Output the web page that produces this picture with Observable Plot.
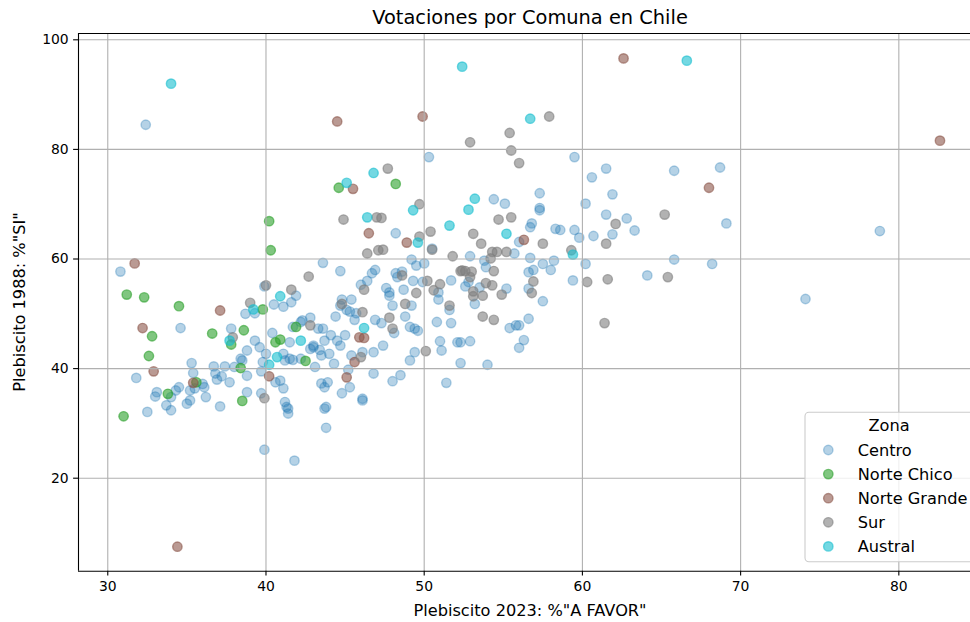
<!DOCTYPE html>
<html><head><meta charset="utf-8">
<script src="https://cdn.jsdelivr.net/npm/d3@7"></script>
<script src="https://cdn.jsdelivr.net/npm/@observablehq/plot@0.6"></script>
<style>
body{margin:0;background:#fff;}
#chart svg{display:block;}
</style></head><body>
<div id="chart"></div>
<script>
const zones = ["Centro","Norte Chico","Norte Grande","Sur","Austral"];
const colors = ["#1f77b4","#2ca02c","#8c564b","#7f7f7f","#17becf"];
const alphas = [0.33,0.6,0.6,0.6,0.6];
const xTicks = [30,40,50,60,70,80];
const yTicks = [20,40,60,80,100];

const centro = [[32.4,84.5],[50.3,78.6],[59.5,78.6],[61.5,76.5],[60.6,74.9],[61.9,71.8],[57.3,72.0],[54.4,70.9],[55.1,70.1],[57.3,69.3],[60.2,70.1],[61.5,68.1],[62.8,67.4],[65.8,76.1],[68.7,76.7],[69.1,66.5],[65.8,59.9],[68.2,59.1],[74.1,52.7],[78.8,65.1],
[63.3,65.2],[61.9,64.5],[60.7,64.2],[59.8,63.9],[59.5,65.3],[58.6,65.3],[58.3,65.5],[57.3,68.9],[56.8,66.5],[56.7,65.8],[56.0,63.1],[55.7,61.0],[52.9,60.5],[53.8,59.7],[56.7,60.2],[57.5,59.1],[58.2,59.7],[58.0,58.0],[60.2,59.1],[64.1,57.0],[59.4,56.1],[53.9,58.5],[52.8,55.8],[56.6,57.6],[56.9,58.0],[53.5,54.8],[55.2,54.6],[56.6,54.6],[53.2,51.8],[57.5,52.3],[56.6,49.1],[55.8,47.9],[56.0,47.9],[55.4,47.4],[56.3,45.2],[56.0,43.8],[52.9,45.0],[52.3,44.8],[52.3,41.0],[54.0,40.7],
[48.2,64.7],[50.5,61.9],[49.2,59.9],[49.5,58.8],[50.0,59.2],[43.6,59.3],[44.7,57.8],[46.9,58.0],[46.7,57.4],[48.2,57.4],[48.6,57.7],[48.3,56.7],[46.4,56.0],[46.0,55.3],[47.6,54.7],[47.8,53.9],[48.7,54.4],[49.3,56.0],[49.9,55.8],[51.7,56.1],[52.6,55.0],[50.9,53.9],[50.9,52.6],[51.6,50.7],[47.8,53.3],[48.0,51.5],[49.2,51.5],[48.8,49.5],[50.8,48.5],[51.7,48.3],[49.1,47.6],[49.4,47.3],[49.6,46.9],[48.1,46.5],[47.3,48.3],[46.9,48.9],[45.6,48.9],[45.3,50.4],[45.7,50.1],[44.8,52.6],[45.4,52.6],[44.7,51.5],[44.4,49.5],[45.1,50.7],[43.6,47.3],[44.1,46.1],[44.5,45.1],[44.7,44.2],[45.0,46.1],[42.8,49.3],[42.2,48.5],[41.7,47.6],[41.1,51.3],[40.5,51.7],[41.9,53.3],[41.6,52.1],[42.8,43.6],[43.0,44.2],[41.5,44.8],[41.2,41.5],[41.7,41.6],[43.4,43.4],[43.5,42.4],[44.0,42.7],[44.3,40.9],[45.4,42.4],[46.1,43.0],[46.8,43.0],[47.4,44.2],[45.2,39.8],[46.8,39.1],[48.0,37.7],[48.5,38.8],[49.1,41.5],[49.4,43.0],[51.0,45.0],[51.1,43.3],[52.1,44.8],[51.4,37.4],[40.9,37.8],[41.1,36.4],[41.2,33.9],[41.3,33.0],[43.5,37.3],[43.7,36.6],[43.9,37.5],[44.8,35.5],[45.3,36.6],[46.1,34.5],[43.8,33.0],[43.1,40.3],
[39.9,55.0],[38.7,50.0],[39.3,50.1],[37.8,47.3],[42.3,48.8],[40.4,46.5],[39.3,45.1],[38.8,43.3],[39.6,43.9],[40.0,42.7],[39.8,41.2],[38.4,41.8],[41.5,41.8],[41.1,42.7],[42.2,41.8],[43.0,43.9],[43.3,47.3],[43.7,45.1],
[30.8,57.7],[34.6,47.4],[38.5,41.5],[38.0,40.3],[37.4,40.4],[36.7,40.4],[36.8,39.1],[37.2,38.6],[36.9,38.0],[37.7,37.5],[38.8,38.7],[39.7,39.5],[38.8,35.7],[39.7,35.5],[40.6,37.5],[35.3,41.0],[35.4,39.2],[36.0,37.2],[36.1,36.6],[36.2,34.8],[35.2,36.0],[35.5,36.4],[34.5,36.6],[34.3,36.0],[34.0,34.8],[33.1,35.7],[33.0,34.9],[31.8,38.3],[33.7,33.3],[35.0,33.6],[35.2,34.2],[37.1,33.1],[32.5,32.1],[34.0,32.4],[39.9,25.2],[41.4,32.7],[41.4,31.8],[41.8,23.2],[43.7,32.7],[43.8,29.2],[46.1,34.2]];

const norteChico = [[44.6,73.0],[48.2,73.7],[40.2,66.9],[40.3,61.6],[31.2,53.5],[32.3,53.0],[34.5,51.4],[39.8,50.8],[38.6,47.0],[36.6,46.4],[32.8,45.9],[37.8,44.4],[32.6,42.3],[38.4,40.1],[40.9,45.3],[40.6,44.8],[41.9,47.6],[42.5,41.4],[33.8,35.4],[38.5,34.1],[31.0,31.3],[35.6,37.5]];

const norteGrande = [[62.6,96.6],[49.9,86.0],[44.5,85.1],[45.5,72.8],[82.6,81.6],[68.0,73.0],[31.7,59.2],[37.1,50.6],[32.2,47.4],[32.9,39.5],[35.4,37.4],[40.2,38.6],[34.4,7.5],[46.5,64.7],[48.9,63.0],[45.9,45.7],[46.2,45.6],[45.6,41.2],[45.1,38.4],[56.3,63.5]];

const sur = [[57.9,86.0],[55.4,83.0],[52.9,81.3],[55.5,79.8],[56.0,77.5],[47.7,76.5],[49.7,70.0],[47.0,67.6],[47.3,67.5],[55.5,67.6],[54.7,67.2],[65.2,68.1],[44.9,67.2],[40.0,55.2],[39.0,52.0],[37.9,45.7],[39.9,34.6],[46.4,61.0],[47.1,61.6],[42.7,56.8],[41.6,54.4],[46.2,54.4],[44.8,51.8],[46.1,50.3],[42.8,47.9],[46.0,42.1],[49.7,64.1],[50.4,65.0],[47.4,61.7],[50.5,61.7],[51.8,60.5],[48.6,57.0],[50.2,56.0],[49.5,53.8],[50.6,54.3],[51.0,55.4],[52.3,57.8],[52.6,57.8],[48.8,51.8],[51.6,51.5],[47.8,49.3],[48.0,47.3],[50.1,43.2],[53.1,64.6],[53.6,62.8],[57.5,62.8],[59.3,61.6],[61.5,62.8],[62.1,66.4],[54.3,61.3],[54.6,61.3],[55.2,61.3],[54.2,60.1],[54.4,57.8],[52.4,57.9],[53.0,57.7],[52.9,56.7],[53.9,55.6],[54.3,55.2],[53.1,54.1],[53.1,53.2],[53.7,53.3],[54.9,53.5],[56.9,55.9],[56.8,53.8],[60.3,55.8],[61.6,56.3],[53.7,49.5],[54.4,48.9],[61.4,48.3],[65.4,56.7]];

const austral = [[34.0,92.0],[52.4,95.1],[66.6,96.2],[56.7,85.6],[45.1,73.9],[46.8,75.7],[46.4,67.6],[53.2,71.0],[52.8,69.0],[49.3,68.9],[51.6,66.1],[49.6,63.0],[55.2,64.6],[59.4,60.8],[40.9,53.2],[39.2,50.8],[37.7,45.1],[42.2,45.1],[40.7,42.1],[40.2,40.7],[46.2,47.4]];

const series = [centro, norteChico, norteGrande, sur, austral];
const xDomain = [28.15, 84.53];
const yDomain = [3.03, 101.15];
const R = 4.7, SW = 1.4;
const FONT = "DejaVu Sans, sans-serif";
const LABEL_SIZE = 16.2, TITLE_SIZE = 19.4;

const dotMarks = series.map((d, i) => Plot.dot(d, {
  x: p => p[0], y: p => p[1], r: R,
  fill: colors[i], stroke: colors[i],
  fillOpacity: alphas[i], strokeOpacity: alphas[i], strokeWidth: SW
}));

const svg = Plot.plot({
  width: 970, height: 622,
  marginLeft: 78, marginRight: 0, marginTop: 33, marginBottom: 51.3,
  x: {domain: xDomain, axis: null},
  y: {domain: yDomain, axis: null},
  style: {fontFamily: FONT, fontSize: "13.9px", color: "#000", background: "#fff", overflow: "visible"},
  marks: [
    ...dotMarks,
    Plot.gridX(xTicks, {stroke: "#b0b0b0", strokeOpacity: 1, strokeWidth: 1.1}),
    Plot.gridY(yTicks, {stroke: "#b0b0b0", strokeOpacity: 1, strokeWidth: 1.1}),
    Plot.ruleX([xDomain[0]], {stroke: "#000", strokeWidth: 1.1}),
    Plot.ruleY([yDomain[0], yDomain[1]], {stroke: "#000", strokeWidth: 1.1}),
    Plot.axisX(xTicks, {tickSize: 4.9, tickPadding: 4.9, label: null, strokeWidth: 1.1, fontSize: 13.9, fill: "#000", stroke: "#000"}),
    Plot.axisY(yTicks, {tickSize: 4.9, tickPadding: 4.9, label: null, strokeWidth: 1.1, fontSize: 13.9, fill: "#000", stroke: "#000"})
  ]
});
document.getElementById("chart").appendChild(svg);

const s = d3.select(svg);
// Title
s.append("text").attr("x", 530).attr("y", 24).attr("text-anchor", "middle")
  .attr("font-family", FONT).attr("font-size", TITLE_SIZE).attr("fill", "#000")
  .text("Votaciones por Comuna en Chile");
// Axis labels
s.append("text").attr("x", 530).attr("y", 615.5).attr("text-anchor", "middle")
  .attr("font-family", FONT).attr("font-size", LABEL_SIZE).attr("fill", "#000")
  .text('Plebiscito 2023: %"A FAVOR"');
s.append("text").attr("transform", "translate(19,302) rotate(-90)").attr("dy", "0.35em")
  .attr("text-anchor", "middle").attr("font-family", FONT).attr("font-size", LABEL_SIZE).attr("fill", "#000")
  .text('Plebiscito 1988: %"SI"');
// Legend
const lg = s.append("g");
lg.append("rect").attr("x", 805).attr("y", 412.3).attr("width", 200).attr("height", 149.4)
  .attr("rx", 3.9).attr("fill", "#fff").attr("fill-opacity", 0.8)
  .attr("stroke", "#cccccc").attr("stroke-width", 1.1);
lg.append("text").attr("x", 889).attr("y", 425.7).attr("dy", "0.35em").attr("text-anchor", "middle")
  .attr("font-family", FONT).attr("font-size", LABEL_SIZE).attr("fill", "#000").text("Zona");
zones.forEach((z, i) => {
  const cy = 450 + i * 24.1;
  lg.append("circle").attr("cx", 828.3).attr("cy", cy).attr("r", R)
    .attr("fill", colors[i]).attr("stroke", colors[i])
    .attr("fill-opacity", alphas[i]).attr("stroke-opacity", alphas[i]).attr("stroke-width", SW);
  lg.append("text").attr("x", 857.7).attr("y", cy).attr("dy", "0.35em").attr("text-anchor", "start")
    .attr("font-family", FONT).attr("font-size", LABEL_SIZE).attr("fill", "#000").text(z);
});
</script></body></html>
